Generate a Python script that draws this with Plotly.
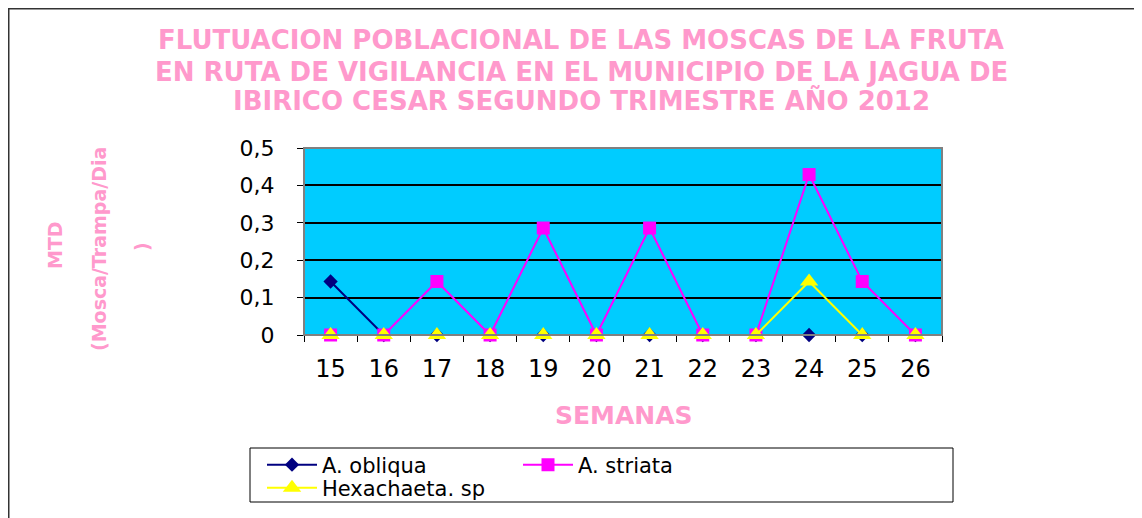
import plotly.graph_objects as go

# ---- data ----
weeks = ["15", "16", "17", "18", "19", "20", "21", "22", "23", "24", "25", "26"]
a_obliqua = [0.143, 0, 0, 0, 0, 0, 0, 0, 0, 0, 0, 0]
a_striata = [0, 0, 0.143, 0, 0.286, 0, 0.286, 0, 0, 0.429, 0.143, 0]
hexachaeta = [0, 0, 0, 0, 0, 0, 0, 0, 0, 0.143, 0, 0]
y_ticks = [0, 0.1, 0.2, 0.3, 0.4, 0.5]
y_ticktext = ["0", "0,1", "0,2", "0,3", "0,4", "0,5"]

title_lines = [
    "FLUTUACION POBLACIONAL DE LAS MOSCAS DE LA FRUTA",
    "EN RUTA DE VIGILANCIA EN EL MUNICIPIO DE LA JAGUA DE",
    "IBIRICO CESAR SEGUNDO TRIMESTRE AÑO 2012",
]
y_title_lines = ["MTD", "(Mosca/Trampa/Dia", ")"]
x_title = "SEMANAS"

# ---- layout geometry (page pixels; the page body adds an 8px offset) ----
OFF = 8
W, H = 1142 - OFF, 518 - OFF
L, R, T, B = 304, 942, 148, 335
PINK = "#FF99CC"
FONT = "DejaVu Sans, Verdana, sans-serif"


def px(x):
    return (x - L) / (R - L)


def py(y):
    return (B - y) / (B - T)


fig = go.Figure()
fig.add_trace(go.Scatter(
    x=weeks, y=a_obliqua, name="A. obliqua", mode="lines+markers",
    line=dict(color="#000080", width=2),
    marker=dict(symbol="diamond", size=11, color="#000080"),
    legend="legend", cliponaxis=False,
))
fig.add_trace(go.Scatter(
    x=weeks, y=a_striata, name="A. striata", mode="lines+markers",
    line=dict(color="#FF00FF", width=2),
    marker=dict(symbol="square", size=13, color="#FF00FF"),
    legend="legend2", cliponaxis=False,
))
fig.add_trace(go.Scatter(
    x=weeks, y=hexachaeta, name="Hexachaeta. sp", mode="lines+markers",
    line=dict(color="#FFFF00", width=2),
    marker=dict(symbol="triangle-up", size=16, color="#FFFF00"),
    legend="legend3", cliponaxis=False,
))

annotations = []
for txt, yc in zip(title_lines, [40, 72, 100.5]):
    annotations.append(dict(
        text=txt, xref="paper", yref="paper", x=px(581), y=py(yc),
        xanchor="center", yanchor="middle", showarrow=False,
        font=dict(family=FONT, size=26, color=PINK, weight="bold"),
    ))
for txt, xc, yc in zip(y_title_lines, [55, 99, 142], [245, 249, 247]):
    annotations.append(dict(
        text=txt, xref="paper", yref="paper", x=px(xc), y=py(yc),
        xanchor="center", yanchor="middle", showarrow=False, textangle=-90,
        font=dict(family=FONT, size=19, color=PINK, weight="bold"),
    ))
annotations.append(dict(
    text=x_title, xref="paper", yref="paper", x=px(624), y=py(415),
    xanchor="center", yanchor="middle", showarrow=False,
    font=dict(family=FONT, size=25, color=PINK, weight="bold"),
))

shapes = [
    # plot-area gray frame
    dict(type="rect", xref="paper", yref="paper", x0=0, x1=1, y0=0, y1=1,
         line=dict(color="#808080", width=2), layer="above"),
    # legend box
    dict(type="rect", xref="paper", yref="paper", x0=px(250), x1=px(953),
         y0=py(502), y1=py(448), line=dict(color="black", width=1)),
    # chart outer border (top and left)
    dict(type="line", xref="paper", yref="paper", x0=px(OFF), x1=px(1142),
         y0=py(OFF + 0.5), y1=py(OFF + 0.5), line=dict(color="#333333", width=2)),
    dict(type="line", xref="paper", yref="paper", x0=px(OFF + 0.5), x1=px(OFF + 0.5),
         y0=py(OFF), y1=py(518), line=dict(color="#333333", width=2)),
]

leg_common = dict(
    orientation="v", bgcolor="rgba(0,0,0,0)", borderwidth=0,
    font=dict(family=FONT, size=21, color="black"),
    xanchor="left", yanchor="middle", itemsizing="trace", itemwidth=50,
)

fig.update_layout(
    width=W, height=H,
    margin=dict(l=L - OFF, r=W - (R - OFF), t=T - OFF, b=H - (B - OFF),
                autoexpand=False),
    paper_bgcolor="white", plot_bgcolor="#00CCFF",
    showlegend=True,
    legend=dict(x=px(262), y=py(465), **leg_common),
    legend2=dict(x=px(518), y=py(465), **leg_common),
    legend3=dict(x=px(262), y=py(488), **leg_common),
    annotations=annotations, shapes=shapes,
    font=dict(family=FONT, color="black"),
)
fig.update_xaxes(
    type="category", range=[-0.5, 11.5], showgrid=False,
    showline=True, linecolor="black", linewidth=1,
    ticks="outside", tickson="boundaries", ticklen=6, tickcolor="black",
    tickfont=dict(family=FONT, size=24, color="black"),
    ticklabelstandoff=12,
)
fig.update_yaxes(
    range=[0, 0.5], tickvals=y_ticks, ticktext=y_ticktext,
    showgrid=True, gridcolor="black", gridwidth=1.5, zeroline=False,
    showline=True, linecolor="black", linewidth=1,
    ticks="outside", ticklen=6, tickcolor="black",
    tickfont=dict(family=FONT, size=22, color="black"),
    ticklabelstandoff=18,
)

fig.write_html("out.html")
